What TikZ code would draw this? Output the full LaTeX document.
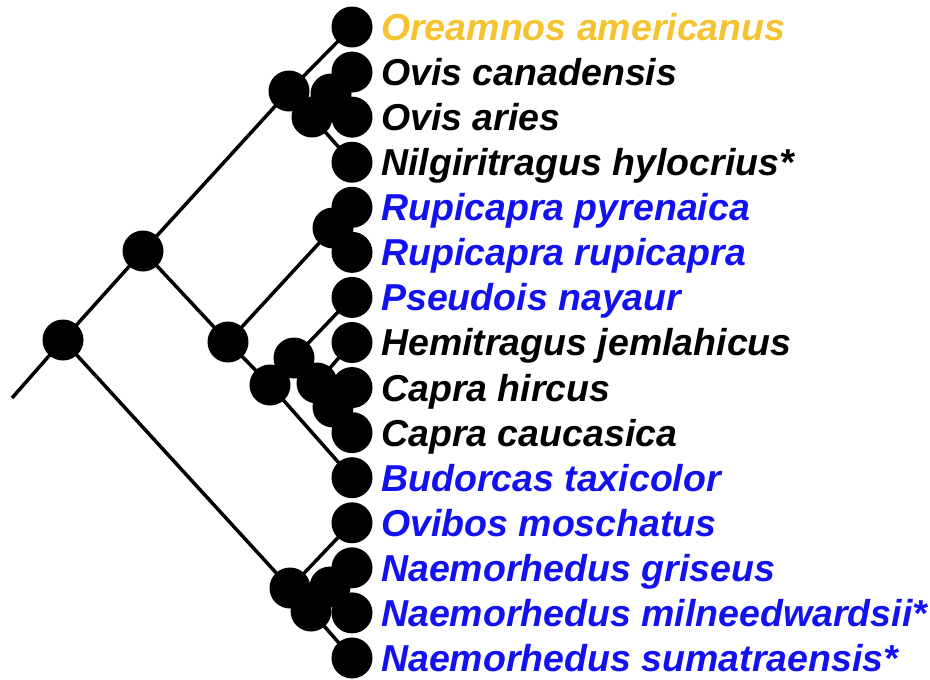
\documentclass[tikz,border=0pt]{standalone}
\usepackage{fontspec}
\setmainfont{Liberation Sans}
\definecolor{gold}{RGB}{245,195,48}
\definecolor{tblue}{RGB}{18,18,240}
\begin{document}
\begin{tikzpicture}[x=1pt,y=-1pt,
  dot/.style={circle,fill=black,inner sep=0pt,minimum size=41pt},
  br/.style={line width=3.5pt,black},
  lab/.style={anchor=base west,inner sep=0pt,font=\fontsize{37.5}{40}\selectfont\bfseries\itshape}]
\useasboundingbox (0,0) rectangle (930,680);
% leaves
\foreach \n/\i in {l1/0,l2/1,l3/2,l4/3,l5/4,l6/5,l7/6,l8/7,l9/8,l10/9,l11/10,l12/11,l13/12,l14/13,l15/14}
  \coordinate (\n) at (352,{27+45.07*\i});
% internal nodes
\coordinate (root) at (63,340);
\coordinate (stub) at (12,398);
\coordinate (A) at (143,251);
\coordinate (T1) at (289,91);
\coordinate (T2) at (312,117);
\coordinate (T3) at (331,94);
\coordinate (B) at (228,342);
\coordinate (R) at (333,228);
\coordinate (D) at (270,385);
\coordinate (C) at (294,358);
\coordinate (E) at (317,383);
\coordinate (K) at (333,407);
\coordinate (F) at (290,588);
\coordinate (G) at (311,611);
\coordinate (H) at (330,587);
% branches
\draw[br] (stub) -- (root);
\draw[br] (root) -- (A);
\draw[br] (root) -- (F);
\draw[br] (A) -- (T1);
\draw[br] (A) -- (B);
\draw[br] (T1) -- (l1);
\draw[br] (T1) -- (T2);
\draw[br] (T2) -- (T3);
\draw[br] (T2) -- (l4);
\draw[br] (T3) -- (l2);
\draw[br] (T3) -- (l3);
\draw[br] (B) -- (R);
\draw[br] (B) -- (D);
\draw[br] (R) -- (l5);
\draw[br] (R) -- (l6);
\draw[br] (D) -- (C);
\draw[br] (D) -- (l11);
\draw[br] (C) -- (l7);
\draw[br] (C) -- (E);
\draw[br] (E) -- (l8);
\draw[br] (E) -- (K);
\draw[br] (K) -- (l9);
\draw[br] (K) -- (l10);
\draw[br] (F) -- (l12);
\draw[br] (F) -- (G);
\draw[br] (G) -- (H);
\draw[br] (G) -- (l15);
\draw[br] (H) -- (l13);
\draw[br] (H) -- (l14);
% dots
\foreach \p in {root,A,T1,T2,T3,B,R,D,C,E,K,F,G,H,l1,l2,l3,l4,l5,l6,l7,l8,l9,l10,l11,l12,l13,l14,l15}
  \node[dot] (d\p) at (\p) {};
% labels
\node[lab,text=gold] (t1) at ([shift={(29,13.5)}]l1) {Oreamnos americanus};
\node[lab] (t2) at ([shift={(29,13.5)}]l2) {Ovis canadensis};
\node[lab] (t3) at ([shift={(29,13.5)}]l3) {Ovis aries};
\node[lab] (t4) at ([shift={(29,13.5)}]l4) {Nilgiritragus hylocrius*};
\node[lab,text=tblue] (t5) at ([shift={(29,13.5)}]l5) {Rupicapra pyrenaica};
\node[lab,text=tblue] (t6) at ([shift={(29,13.5)}]l6) {Rupicapra rupicapra};
\node[lab,text=tblue] (t7) at ([shift={(29,13.5)}]l7) {Pseudois nayaur};
\node[lab] (t8) at ([shift={(29,13.5)}]l8) {Hemitragus jemlahicus};
\node[lab] (t9) at ([shift={(29,13.5)}]l9) {Capra hircus};
\node[lab] (t10) at ([shift={(29,13.5)}]l10) {Capra caucasica};
\node[lab,text=tblue] (t11) at ([shift={(29,13.5)}]l11) {Budorcas taxicolor};
\node[lab,text=tblue] (t12) at ([shift={(29,13.5)}]l12) {Ovibos moschatus};
\node[lab,text=tblue] (t13) at ([shift={(29,13.5)}]l13) {Naemorhedus griseus};
\node[lab,text=tblue] (t14) at ([shift={(29,13.5)}]l14) {Naemorhedus milneedwardsii*};
\node[lab,text=tblue] (t15) at ([shift={(29,13.5)}]l15) {Naemorhedus sumatraensis*};
\end{tikzpicture}
\end{document}
